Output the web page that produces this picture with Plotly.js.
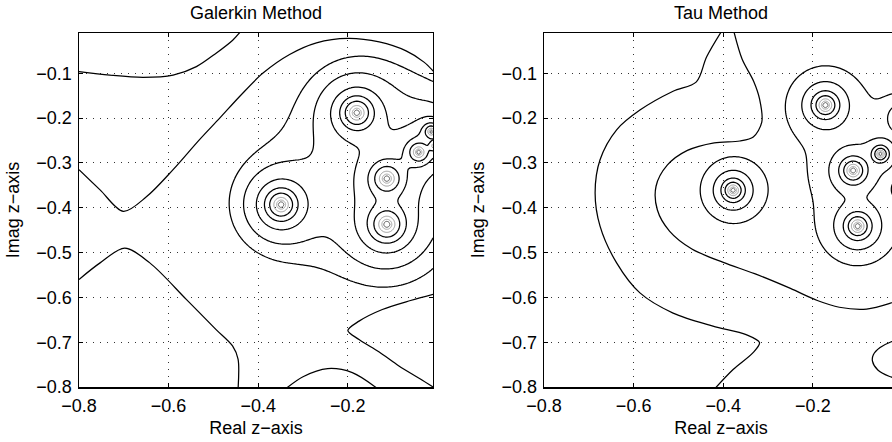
<!DOCTYPE html>
<html>
<head>
<meta charset="utf-8">
<script src="https://cdn.plot.ly/plotly-3.0.1.min.js"></script>
<style>
html, body { margin: 0; padding: 0; overflow: hidden; background: #fff; }
#chart { width: 905px; height: 442px; }
</style>
</head>
<body>
<div id="chart"></div>
<script>
// ---- Galerkin: eigenvalues (re, im) and their sensitivity scale ----
const galPoleRe    = [-0.349, -0.180, -0.113, -0.113, -0.042, -0.014, -0.006];
const galPoleIm    = [-0.393, -0.188, -0.335, -0.437, -0.276, -0.230, -0.262];
const galPoleScale = [1.0, 1.0, 1.0, 1.1, 0.7, 0.45, 0.35];
const galPower     = 2;
// contour levels (epsilon values) and their line colours
const galLevels    = [0.098, 0.075, 0.052, 0.036, 0.025, 0.016, 0.010, 0.006];
const galLevelCol  = ['#000', '#000', '#000', '#000', '#000', '#9a9a9a', '#a4a4a4', '#555'];

// outer Galerkin level curves
const galCornerX = [-0.80, -0.731, -0.657, -0.590, -0.538, -0.494, -0.457, -0.438];
const galCornerY = [-0.096, -0.104, -0.109, -0.104, -0.085, -0.055, -0.026, -0.005];
const galUpperX  = [-0.80, -0.753, -0.701, -0.649, -0.590, -0.531, -0.486, -0.440, -0.390, -0.330, -0.270, -0.200, -0.130, -0.070, -0.030, -0.005];
const galUpperY  = [-0.315, -0.360, -0.408, -0.375, -0.315, -0.248, -0.200, -0.150, -0.100, -0.058, -0.032, -0.022, -0.030, -0.050, -0.075, -0.100];
const galLowerX  = [-0.80, -0.753, -0.698, -0.642, -0.560, -0.494, -0.457, -0.445, -0.445];
const galLowerY  = [-0.560, -0.523, -0.490, -0.523, -0.605, -0.672, -0.709, -0.738, -0.805];
const galBottomX = [-0.340, -0.300, -0.245, -0.190, -0.132];
const galBottomY = [-0.805, -0.777, -0.759, -0.768, -0.805];
const galRightX  = [-0.005, -0.060, -0.123, -0.175, -0.200, -0.175, -0.130, -0.086, -0.040, -0.005];
const galRightY  = [-0.592, -0.607, -0.627, -0.653, -0.674, -0.694, -0.722, -0.753, -0.781, -0.803];

// ---- Tau: eigenvalues (re, im) and their sensitivity scale ----
const tauPoleRe    = [-0.378, -0.172, -0.110, -0.100, -0.049, 0.000, 0.005];
const tauPoleIm    = [-0.361, -0.171, -0.317, -0.441, -0.280, -0.200, -0.360];
const tauPoleScale = [0.85, 1.0, 1.0, 1.0, 0.6, 0.6, 0.5];
const tauPower     = 3;
const tauLevels    = [0.085, 0.052, 0.032, 0.021, 0.014, 0.009, 0.0055];
const tauLevelCol  = ['#000', '#000', '#000', '#000', '#9a9a9a', '#a4a4a4', '#555'];

// outer Tau level curves
const tauOuterX = [-0.400, -0.437, -0.460, -0.512, -0.586, -0.638, -0.675, -0.686, -0.675, -0.638, -0.586, -0.512, -0.423, -0.349, -0.319, -0.334, -0.378, -0.420];
const tauOuterY = [0.000, -0.063, -0.119, -0.140, -0.182, -0.226, -0.293, -0.367, -0.441, -0.523, -0.590, -0.635, -0.664, -0.683, -0.701, -0.724, -0.761, -0.805];
const tauMidX   = [-0.378, -0.358, -0.332, -0.319, -0.314, -0.333, -0.363, -0.420, -0.480, -0.525, -0.550, -0.547, -0.520, -0.470, -0.400, -0.330, -0.250, -0.190, -0.141, -0.080, -0.030, 0.000];
const tauMidY   = [0.000, -0.068, -0.118, -0.157, -0.209, -0.242, -0.251, -0.255, -0.272, -0.305, -0.352, -0.405, -0.452, -0.492, -0.522, -0.547, -0.580, -0.607, -0.622, -0.626, -0.614, -0.602];
const tauLobeX  = [0.000, -0.025, -0.050, -0.065, -0.067, -0.055, -0.030, 0.000];
const tauLobeY  = [-0.692, -0.699, -0.712, -0.728, -0.742, -0.762, -0.776, -0.784];

// ---- axes ----
const axisRange = [-0.8, -0.01];
const xTicks = [-0.8, -0.6, -0.4, -0.2];
const xTickText = ['\u22120.8', '\u22120.6', '\u22120.4', '\u22120.2'];
const yTicks = [-0.8, -0.7, -0.6, -0.5, -0.4, -0.3, -0.2, -0.1];
const yTickText = ['\u22120.8', '\u22120.7', '\u22120.6', '\u22120.5', '\u22120.4', '\u22120.3', '\u22120.2', '\u22120.1'];

// sample -log10 of the blended distance to the spectrum on a regular grid
const N = 201;
function sampleField(re, im, sc, p) {
  const xs = [];
  for (let i = 0; i < N; i++) xs.push(axisRange[0] + (axisRange[1] - axisRange[0]) * i / (N - 1));
  const z = [];
  for (let j = 0; j < N; j++) {
    const row = [];
    for (let i = 0; i < N; i++) {
      let s = 0;
      for (let k = 0; k < re.length; k++) {
        const r = Math.max(Math.hypot(xs[i] - re[k], xs[j] - im[k]), 1e-6);
        s += Math.pow(sc[k] / r, p);
      }
      row.push(Math.log10(s) / p);
    }
    z.push(row);
  }
  return {x: xs, y: xs, z: z};
}

function levelTraces(g, levels, colours, xa, ya) {
  return levels.map((eps, i) => {
    const v = -Math.log10(eps);
    return {
      type: 'contour', x: g.x, y: g.y, z: g.z, xaxis: xa, yaxis: ya,
      autocontour: false,
      contours: {coloring: 'lines', start: v, end: v + 0.001, size: 1},
      colorscale: [[0, colours[i]], [1, colours[i]]], showscale: false,
      line: {width: colours[i] === '#000' ? 1.25 : 1, smoothing: 0}, hoverinfo: 'skip'
    };
  });
}
function curve(xs, ys, xa, ya) {
  return {type: 'scatter', mode: 'lines', x: xs, y: ys, xaxis: xa, yaxis: ya,
          line: {color: '#000', width: 1.25, shape: 'spline', smoothing: 0.9}, hoverinfo: 'skip'};
}

const galField = sampleField(galPoleRe, galPoleIm, galPoleScale, galPower);
const tauField = sampleField(tauPoleRe, tauPoleIm, tauPoleScale, tauPower);

const traces = []
  .concat(levelTraces(galField, galLevels, galLevelCol, 'x', 'y'))
  .concat([curve(galCornerX, galCornerY, 'x', 'y'), curve(galUpperX, galUpperY, 'x', 'y'),
           curve(galLowerX, galLowerY, 'x', 'y'), curve(galBottomX, galBottomY, 'x', 'y'),
           curve(galRightX, galRightY, 'x', 'y')])
  .concat(levelTraces(tauField, tauLevels, tauLevelCol, 'x2', 'y2'))
  .concat([curve(tauOuterX, tauOuterY, 'x2', 'y2'), curve(tauMidX, tauMidY, 'x2', 'y2'),
           curve(tauLobeX, tauLobeY, 'x2', 'y2')]);

const font = {family: 'Liberation Sans, Arial, Helvetica, sans-serif', size: 18, color: '#000'};
function axis(domain, anchor, isX) {
  return {
    domain: domain, anchor: anchor, range: axisRange,
    tickvals: isX ? xTicks : yTicks, ticktext: isX ? xTickText : yTickText,
    ticks: 'inside', ticklen: 4, tickcolor: '#000', ticklabelstandoff: isX ? 2 : 2,
    showline: true, linecolor: '#000', linewidth: 1.5, mirror: 'ticks',
    showgrid: true, gridcolor: '#333', gridwidth: 1, griddash: '1px,6px',
    zeroline: false, tickfont: font,
    title: {text: isX ? 'Real z\u2212axis' : 'Imag z\u2212axis', font: font, standoff: isX ? 6 : 12}
  };
}

const layout = {
  width: 905, height: 442,
  margin: {l: 79, r: 7, t: 33, b: 55},
  paper_bgcolor: '#fff', plot_bgcolor: '#fff',
  showlegend: false,
  xaxis: axis([0, 0.4322], 'y', true),
  yaxis: axis([0, 1], 'x', false),
  xaxis2: axis([0.5678, 1], 'y2', true),
  yaxis2: axis([0, 1], 'x2', false),
  annotations: [
    {text: 'Galerkin Method', xref: 'x domain', yref: 'paper', x: 0.5, y: 1, yanchor: 'bottom', yshift: 8, showarrow: false, font: font},
    {text: 'Tau Method', xref: 'x2 domain', yref: 'paper', x: 0.5, y: 1, yanchor: 'bottom', yshift: 8, showarrow: false, font: font}
  ]
};

Plotly.newPlot('chart', traces, layout, {staticPlot: true});
</script>
</body>
</html>
